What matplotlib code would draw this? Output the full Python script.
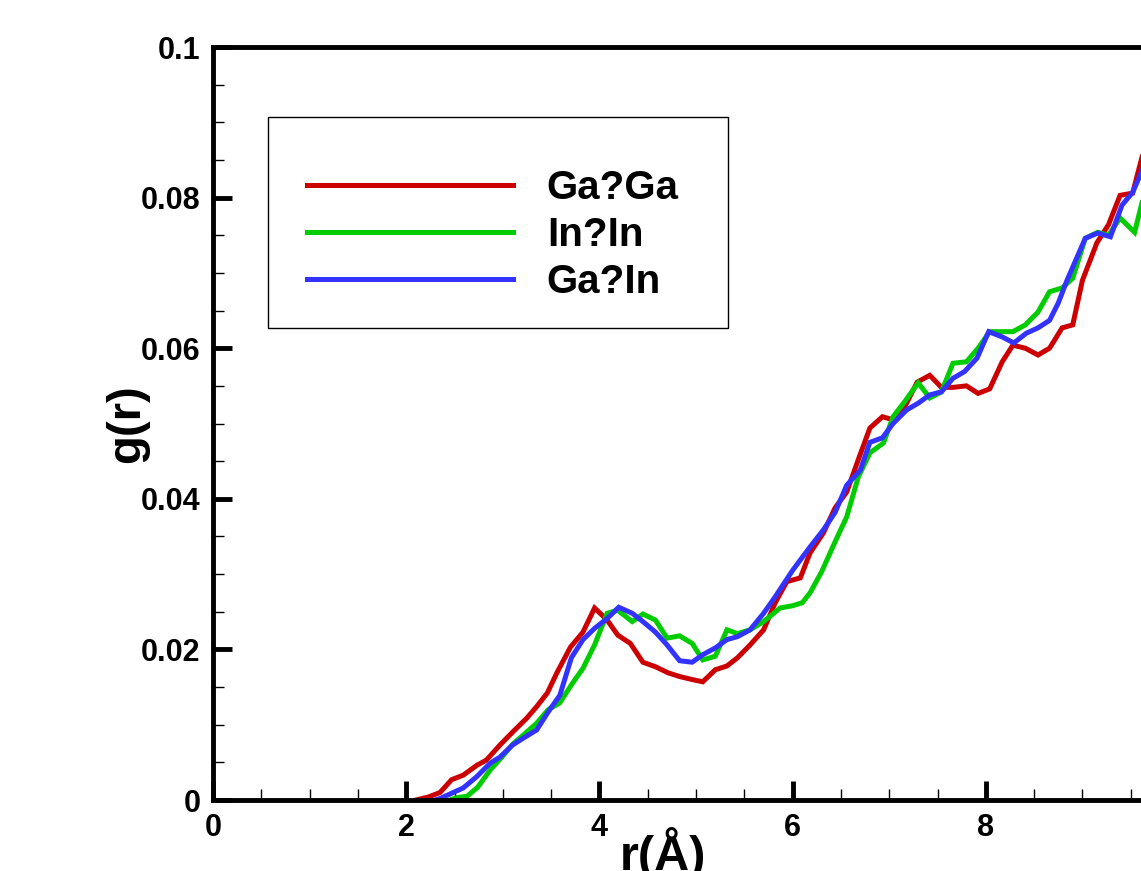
import matplotlib
matplotlib.use("Agg")
import matplotlib.pyplot as plt
from matplotlib.patches import Rectangle
from matplotlib.ticker import MultipleLocator

plt.rcParams['font.family'] = ['Liberation Sans', 'DejaVu Sans']
plt.rcParams['font.weight'] = 'bold'

labels = ["Ga?Ga", "In?In", "Ga?In"]
colors = ["#CC0000", "#00CC00", "#3333FF"]

r_gaga = [2.1, 2.23, 2.35, 2.47, 2.59, 2.73, 2.83, 2.97, 3.1, 3.25, 3.35, 3.46, 3.56,
          3.7, 3.83, 3.95, 4.08, 4.19, 4.32, 4.45, 4.58, 4.71, 4.83, 4.96, 5.07, 5.2,
          5.32, 5.43, 5.56, 5.7, 5.82, 5.94, 6.08, 6.18, 6.32, 6.44, 6.56, 6.68, 6.8,
          6.93, 7.04, 7.16, 7.29, 7.42, 7.54, 7.66, 7.8, 7.92, 8.04, 8.17, 8.28, 8.41,
          8.54, 8.66, 8.79, 8.9, 9.0, 9.15, 9.27, 9.39, 9.52, 9.65]
g_gaga = [0.0, 0.0004, 0.001, 0.0027, 0.0033, 0.0046, 0.0053, 0.0073, 0.009, 0.0109,
          0.0124, 0.0142, 0.0169, 0.0203, 0.0223, 0.0255, 0.0239, 0.0219, 0.0208,
          0.0183, 0.0177, 0.0169, 0.0164, 0.016, 0.0157, 0.0173, 0.0178, 0.0189,
          0.0206, 0.0226, 0.0262, 0.029, 0.0295, 0.0328, 0.0355, 0.0388, 0.0409,
          0.0452, 0.0494, 0.0509, 0.0505, 0.0522, 0.0555, 0.0564, 0.0548, 0.0548,
          0.055, 0.054, 0.0546, 0.0582, 0.0604, 0.06, 0.0591, 0.06, 0.0627, 0.0631,
          0.069, 0.074, 0.0764, 0.0803, 0.0806, 0.087]

r_inin = [2.45, 2.52, 2.63, 2.74, 2.87, 2.99, 3.11, 3.21, 3.35, 3.47, 3.59, 3.71, 3.83,
          3.95, 4.08, 4.19, 4.34, 4.45, 4.58, 4.7, 4.83, 4.96, 5.07, 5.2, 5.32, 5.43,
          5.56, 5.7, 5.87, 6.0, 6.1, 6.18, 6.3, 6.44, 6.56, 6.68, 6.8, 6.94, 7.04, 7.16,
          7.3, 7.42, 7.54, 7.66, 7.8, 7.92, 8.04, 8.17, 8.28, 8.41, 8.54, 8.66, 8.79,
          8.9, 9.03, 9.16, 9.27, 9.39, 9.54, 9.65]
g_inin = [0.0, 0.0003, 0.0005, 0.0017, 0.004, 0.0057, 0.0075, 0.0086, 0.0102, 0.012,
          0.0129, 0.0153, 0.0175, 0.0206, 0.0248, 0.0252, 0.0237, 0.0247, 0.0239,
          0.0215, 0.0218, 0.0208, 0.0186, 0.0191, 0.0226, 0.0221, 0.0226, 0.0237,
          0.0255, 0.0258, 0.0262, 0.0275, 0.0303, 0.0343, 0.0376, 0.0429, 0.0461,
          0.0474, 0.0509, 0.0529, 0.0554, 0.0534, 0.0542, 0.058, 0.0582, 0.06, 0.0622,
          0.0622, 0.0622, 0.0631, 0.0648, 0.0675, 0.068, 0.0693, 0.0746, 0.0754,
          0.075, 0.0773, 0.0754, 0.081]

r_gain = [2.3, 2.35, 2.47, 2.59, 2.73, 2.87, 2.97, 3.1, 3.21, 3.35, 3.47, 3.59, 3.71,
          3.83, 3.95, 4.08, 4.2, 4.34, 4.45, 4.58, 4.7, 4.83, 4.96, 5.07, 5.2, 5.32,
          5.43, 5.56, 5.7, 5.82, 6.0, 6.18, 6.32, 6.44, 6.56, 6.7, 6.8, 6.93, 7.04,
          7.18, 7.3, 7.42, 7.54, 7.66, 7.78, 7.91, 8.03, 8.17, 8.29, 8.42, 8.54, 8.66,
          8.75, 8.84, 9.03, 9.16, 9.29, 9.41, 9.52, 9.65]
g_gain = [0.0, 0.0002, 0.0009, 0.0016, 0.0031, 0.0049, 0.0057, 0.0073, 0.0082, 0.0093,
          0.0117, 0.0139, 0.0189, 0.0213, 0.0228, 0.0241, 0.0256, 0.0248, 0.0237,
          0.0223, 0.0206, 0.0185, 0.0183, 0.0193, 0.0202, 0.0213, 0.0217, 0.0226,
          0.0248, 0.027, 0.0305, 0.0336, 0.0359, 0.0382, 0.0418, 0.0438, 0.0475,
          0.0481, 0.05, 0.0518, 0.0527, 0.0538, 0.0542, 0.056, 0.0569, 0.0587, 0.0622,
          0.0615, 0.0607, 0.062, 0.0627, 0.0637, 0.066, 0.069, 0.0746, 0.0753, 0.0748,
          0.079, 0.0807, 0.0845]

xticks = [0, 2, 4, 6, 8]
yticks = [0, 0.02, 0.04, 0.06, 0.08, 0.1]
yticklabels = ["0", "0.02", "0.04", "0.06", "0.08", "0.1"]

fig = plt.figure(figsize=(11.41, 8.71), dpi=100)
# axes runs past the right edge of the picture, like the cropped original
ax = fig.add_axes([0.1867, 0.0815, 0.8466, 0.8645])

series = [(r_gaga, g_gaga), (r_inin, g_inin), (r_gain, g_gain)]
for (r, g), lab, c in zip(series, labels, colors):
    ax.plot(r, g, color=c, lw=3.6, label=lab, solid_joinstyle='miter')

ax.set_xlim(0, 10)
ax.set_ylim(0, 0.1)
ax.xaxis.set_minor_locator(MultipleLocator(0.5))
ax.yaxis.set_minor_locator(MultipleLocator(0.005))
ax.set_xticks(xticks)
ax.set_xticklabels([str(v) for v in xticks])
ax.set_yticks(yticks)
ax.set_yticklabels(yticklabels)

for s in ax.spines.values():
    s.set_linewidth(3.5)
ax.tick_params(which='major', direction='in', length=14, width=3.5,
               labelsize=22, pad=9, top=False, right=False)
ax.tick_params(which='minor', direction='in', length=8, width=1,
               top=False, right=False)
for t in ax.get_xticklabels() + ax.get_yticklabels():
    t.set_fontweight('bold')

ax.set_ylabel("g(r)", fontsize=34, fontweight='bold')
ax.yaxis.set_label_coords(-0.066, 0.5)
ax.set_xlabel("r(Å)", fontsize=35, fontweight='bold')
ax.xaxis.set_label_coords(0.466, -0.036)

# legend box drawn separately so the entries can sit low in it, as in the original
ax.add_patch(Rectangle((0.057, 0.627), 0.476, 0.28, transform=ax.transAxes,
                       fill=False, edgecolor='black', lw=1.0, zorder=4))
leg = ax.legend(loc='upper left', bbox_to_anchor=(0.0975, 0.838),
                fontsize=29, frameon=False, handlelength=5.1,
                handletextpad=0.85, labelspacing=0.22, borderpad=0,
                borderaxespad=0)
for t in leg.get_texts():
    t.set_fontweight('bold')

fig.savefig("out.png", dpi=100)
